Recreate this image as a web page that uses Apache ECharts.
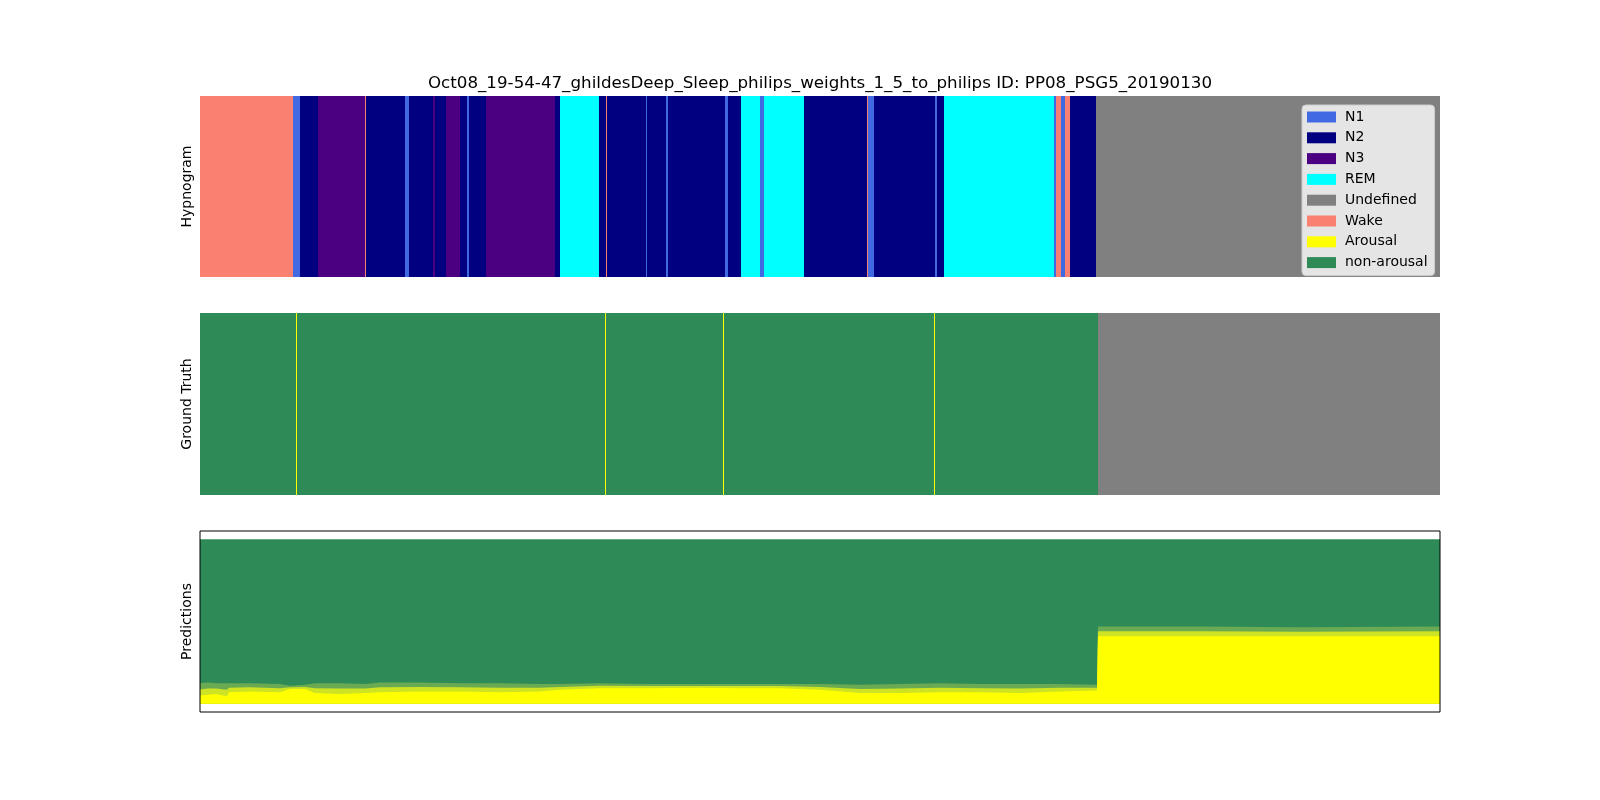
<!DOCTYPE html>
<html>
<head>
<meta charset="utf-8">
<script src="https://cdn.jsdelivr.net/npm/echarts@6/dist/echarts.min.js"></script>
<style>
html,body{margin:0;padding:0;background:#fff;}
#chart{width:1600px;height:800px;}
</style>
</head>
<body>
<div id="chart"></div>
<script>
// ---- data (x unit: epoch index) ----
const totalEpochs = 1240;
const hypnoStage = ['Wake','N1','N2','N3','Wake','N2','N1','N2','N3','N2','N3','N2','N1','N2','N3','N2','REM','N2','Wake','N2','N1','N2','N1','N2','N1','N2','REM','N1','REM','N2','Wake','N1','N2','N1','N2','REM','N1','Wake','N1','Wake','N2','Undefined'];
const hypnoEnd =   [93,    100, 118, 165, 166,   205, 209, 233, 235, 246, 260, 267, 269, 286, 355, 360, 399,  406, 407,   446, 447, 466, 468, 525, 528, 541, 560,  564, 604,  667, 668,   674, 735, 737, 744, 854,  856, 861,   865, 870,   896, 1240];

const gtLabel = ['non-arousal','Arousal','non-arousal','Arousal','non-arousal','Arousal','non-arousal','Arousal','non-arousal','Undefined'];
const gtEnd =   [96,           97,       405,          406,      523,          524,      734,          735,      898,          1240];

const predEpoch =   [0,     8,     16,    27,    29,    50,    80,    90,    105,   115,   140,   165,   180,   220,   260,   300,   340,   360,   400,   450,   500,   540,   580,   620,   660,   700,   740,   780,   820,   860,   897,   898,  1000, 1100,  1240];
const arousalLow =  [0.05,  0.055, 0.06,  0.045, 0.07,  0.075, 0.07,  0.09,  0.09,  0.065, 0.06,  0.065, 0.07,  0.075, 0.075, 0.07,  0.075, 0.085, 0.095, 0.095, 0.097, 0.095, 0.095, 0.085, 0.065, 0.065, 0.07,  0.07,  0.065, 0.075, 0.08,  0.41, 0.41, 0.41,  0.41];
const arousalHigh = [0.125, 0.13,  0.125, 0.125, 0.125, 0.125, 0.12,  0.11,  0.115, 0.125, 0.125, 0.12,  0.13,  0.13,  0.125, 0.125, 0.12,  0.12,  0.125, 0.12,  0.12,  0.12,  0.12,  0.12,  0.115, 0.12,  0.125, 0.12,  0.12,  0.12,  0.115, 0.47, 0.47, 0.465, 0.47];

const titleText = 'Oct08_19-54-47_ghildesDeep_Sleep_philips_weights_1_5_to_philips ID: PP08_PSG5_20190130';
const legendNames = ['N1','N2','N3','REM','Undefined','Wake','Arousal','non-arousal'];
const colorOf = {
  'N1':'#4169e1','N2':'#000080','N3':'#4b0082','REM':'#00ffff','Undefined':'#808080','Wake':'#fa8072',
  'Arousal':'#ffff00','non-arousal':'#2e8b57'
};

// ---- build ----
function segments(labels, ends) {
  const out = {};
  let start = 0;
  labels.forEach((l, i) => {
    (out[l] = out[l] || []).push([start, ends[i]]);
    start = ends[i];
  });
  return out;
}
function rectRender(color) {
  return function (params, api) {
    const a = api.coord([api.value(0), 1]);
    const b = api.coord([api.value(1), 0]);
    return {
      type: 'rect',
      shape: { x: a[0], y: a[1], width: b[0] - a[0], height: b[1] - a[1] },
      style: { fill: color }
    };
  };
}
const FONT = 'DejaVu Sans';
const series = [];
const hyp = segments(hypnoStage, hypnoEnd);
legendNames.forEach(n => {
  if (hyp[n]) series.push({
    type: 'custom', name: n, xAxisIndex: 0, yAxisIndex: 0,
    itemStyle: { color: colorOf[n] }, renderItem: rectRender(colorOf[n]),
    encode: { x: [0, 1] }, data: hyp[n], silent: true
  });
});
const gt = segments(gtLabel, gtEnd);
['non-arousal', 'Undefined', 'Arousal'].forEach(n => {
  series.push({
    type: 'custom', name: n, xAxisIndex: 1, yAxisIndex: 1,
    itemStyle: { color: colorOf[n] }, renderItem: rectRender(colorOf[n]),
    encode: { x: [0, 1] }, data: gt[n], silent: true
  });
});
const midBand = arousalLow.map((v, i) => (v + arousalHigh[i]) / 2);
function area(name, values, color, z) {
  return {
    type: 'line', name: name, xAxisIndex: 2, yAxisIndex: 2, z: z,
    data: predEpoch.map((x, i) => [x, values[i]]),
    showSymbol: false, symbol: 'none', silent: true,
    lineStyle: { width: 0 }, itemStyle: { color: color },
    areaStyle: { color: color, opacity: 1, origin: 0 }
  };
}
series.push(area('non-arousal', predEpoch.map(() => 1), colorOf['non-arousal'], 2));
series.push(area('bandUpper', arousalHigh, '#6aaa52', 3));
series.push(area('bandLower', midBand, '#cde323', 4));
series.push(area('Arousal', arousalLow, colorOf['Arousal'], 5));

const gridLeft = 200, gridWidth = 1240;
const grids = [
  { left: gridLeft, width: gridWidth, top: 96, height: 181 },
  { left: gridLeft, width: gridWidth, top: 313, height: 182 },
  { left: gridLeft, width: gridWidth, top: 531, height: 181, show: true, borderColor: '#000', borderWidth: 1, backgroundColor: 'transparent', z: 10 }
];
const yNames = ['Hypnogram', 'Ground Truth', 'Predictions'];
const yMin = [0, 0, -0.05], yMax = [1, 1, 1.05];

const option = {
  backgroundColor: '#fff',
  animation: false,
  title: {
    text: titleText, left: 815, top: 70, textAlign: 'center',
    textStyle: { fontFamily: FONT, fontSize: 16.7, fontWeight: 'normal', color: '#000' }
  },
  grid: grids,
  xAxis: grids.map((g, i) => ({
    type: 'value', gridIndex: i, min: 0, max: totalEpochs,
    axisLine: { show: false }, axisTick: { show: false }, axisLabel: { show: false }, splitLine: { show: false }
  })),
  yAxis: grids.map((g, i) => ({
    type: 'value', gridIndex: i, min: yMin[i], max: yMax[i],
    name: yNames[i], nameLocation: 'middle', nameRotate: 90, nameGap: 6,
    nameTextStyle: { fontFamily: FONT, fontSize: 14, color: '#000' },
    axisLine: { show: false }, axisTick: { show: false }, axisLabel: { show: false }, splitLine: { show: false }
  })),
  legend: {
    orient: 'vertical', left: 1302, top: 105,
    padding: [5, 7, 6, 5], itemGap: 6.8, itemWidth: 29, itemHeight: 11,
    icon: 'rect', selectedMode: false,
    backgroundColor: 'rgba(229,229,229,1)', borderColor: '#cccccc', borderWidth: 1, borderRadius: 4,
    textStyle: { fontFamily: FONT, fontSize: 14, color: '#000', padding: [0, 0, 0, 4] },
    data: legendNames.map(n => ({ name: n, itemStyle: { color: colorOf[n] } })),
    z: 20
  },
  series: series
};
const chart = echarts.init(document.getElementById('chart'), null, { renderer: 'canvas' });
chart.setOption(option);
</script>
</body>
</html>
